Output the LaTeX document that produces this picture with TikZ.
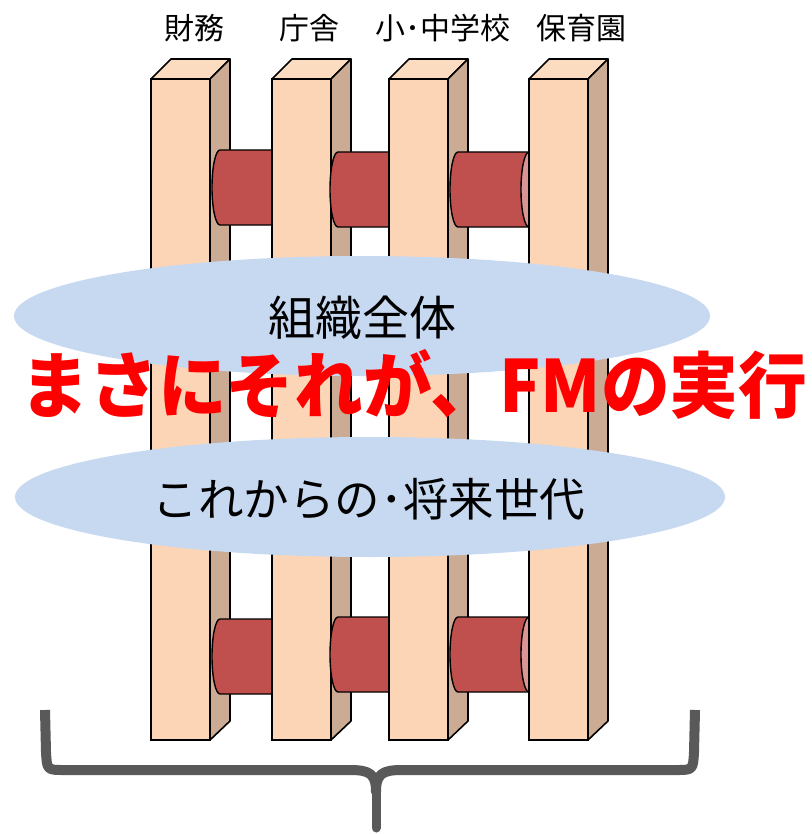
\documentclass[tikz,border=0pt]{standalone}
\usepackage{fontspec}
\setmainfont{Noto Sans CJK JP}
\usepackage{xcolor}
\definecolor{pfront}{HTML}{FBD5B5}
\definecolor{ptop}{HTML}{FCDCC1}
\definecolor{pside}{HTML}{CBAB93}
\definecolor{tubered}{HTML}{C0504D}
\definecolor{tubecap}{HTML}{D99694}
\definecolor{ringblue}{HTML}{C6D9F0}
\definecolor{bracegray}{HTML}{595959}

\newcommand\pillar[1]{%
 \filldraw[pfront, draw=black, line width=1.6pt] (#1,79) rectangle (#1+59,740);
 \filldraw[ptop, draw=black, line width=1.6pt, line join=round] (#1,79) -- (#1+20,59) -- (#1+79,59) -- (#1+59,79) -- cycle;
 \filldraw[pside, draw=black, line width=1.6pt, line join=round] (#1+59,79) -- (#1+79,59) -- (#1+79,721) -- (#1+59,740) -- cycle;
}
\newcommand\tube[4]{%
 \filldraw[tubered, draw=black, line width=1.4pt] (#1,#3) -- (#2,#3) -- (#2,#4) -- (#1,#4) arc[start angle=90, end angle=270, x radius=8, y radius={(#4-#3)/2}] -- cycle;
 \filldraw[tubecap, draw=black, line width=1.4pt] (#2,{(#3+#4)/2}) ellipse[x radius=8, y radius={(#4-#3)/2}];
}

\begin{document}
\begin{tikzpicture}[x=1pt, y=-1pt]
\useasboundingbox (0,0) rectangle (811,834);

\pillar{151}
\tube{220}{280}{150}{225}
\tube{220}{280}{619}{694}
\pillar{272}
\tube{338}{397}{152}{227}
\tube{338}{397}{617}{692}
\pillar{389}
\tube{458}{529}{152}{227}
\tube{458}{529}{617}{692}
\pillar{529}

\node[font=\fontsize{30}{30}\selectfont] (zaimu) at (194,28) {財務};
\node[font=\fontsize{30}{30}\selectfont] (chosha) at (309,28) {庁舎};
\node[font=\fontsize{30}{30}\selectfont] (gakko) at (443,28) {小･中学校};
\node[font=\fontsize{30}{30}\selectfont] (hoikuen) at (581,28) {保育園};

\fill[ringblue] (362,316) ellipse[x radius=348, y radius=60];
\fill[ringblue] (370,497) ellipse[x radius=355, y radius=60];
\node[font=\fontsize{47}{47}\selectfont] (soshiki) at (362,318) {組織全体};
\node[font=\fontsize{45.5}{45.5}\selectfont] (shorai) at (369,499) {これからの･将来世代};

\node[red, font=\fontsize{72}{72}\selectfont\bfseries, inner sep=0, xscale=0.955] (fm) at (414,384) {まさにそれが、FMの実行};

\draw[bracegray, line width=10pt, line join=round] (45,710) -- (46,752) .. controls (47,770) .. (64,770) -- (350,770) .. controls (370,770) and (376,774) .. (376,792) .. controls (376,774) and (382,770) .. (402,770) -- (676,770) .. controls (693,770) .. (694,752) -- (695,710);
\draw[bracegray, line width=9pt, line cap=round] (376,785) -- (376,828);
\end{tikzpicture}
\end{document}
